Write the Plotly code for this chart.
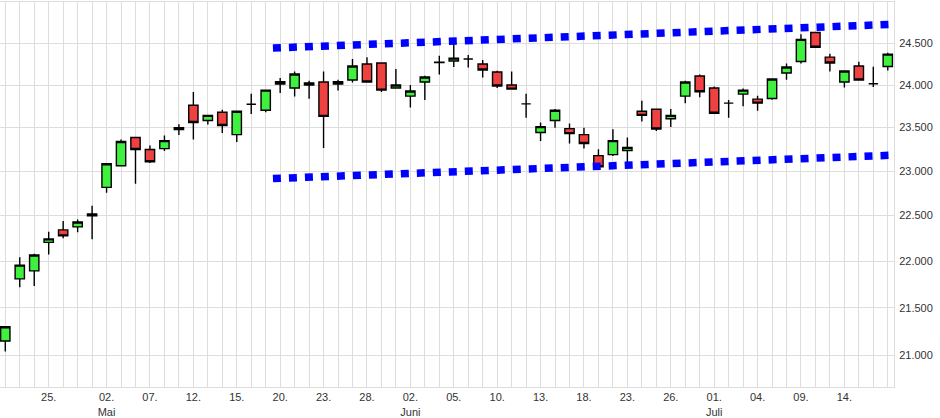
import plotly.graph_objects as go

dates = ["2025-04-22", "2025-04-23", "2025-04-24", "2025-04-25", "2025-04-28", "2025-04-29", "2025-04-30",
         "2025-05-02", "2025-05-05", "2025-05-06", "2025-05-07", "2025-05-08", "2025-05-09", "2025-05-12",
         "2025-05-13", "2025-05-14", "2025-05-15", "2025-05-16", "2025-05-19", "2025-05-20", "2025-05-21",
         "2025-05-22", "2025-05-23", "2025-05-26", "2025-05-27", "2025-05-28", "2025-05-29", "2025-05-30",
         "2025-06-02", "2025-06-03", "2025-06-04", "2025-06-05", "2025-06-06", "2025-06-09", "2025-06-10",
         "2025-06-11", "2025-06-12", "2025-06-13", "2025-06-16", "2025-06-17", "2025-06-18", "2025-06-19",
         "2025-06-20", "2025-06-23", "2025-06-24", "2025-06-25", "2025-06-26", "2025-06-27", "2025-06-30",
         "2025-07-01", "2025-07-02", "2025-07-03", "2025-07-04", "2025-07-07", "2025-07-08", "2025-07-09",
         "2025-07-10", "2025-07-11", "2025-07-14", "2025-07-15", "2025-07-16", "2025-07-17"]

open_ = [21149, 21808, 21894, 22205, 22342, 22375, 22519, 22817, 23062, 23385, 23247, 23258, 23477, 23762,
         23583, 23679, 23419, 23774, 23702, 24012, 23964, 24024, 24036, 24012, 24060, 24250, 24262, 23964,
         23869, 24036, 24268, 24286, 24310, 24250, 24155, 24000, 23778, 23444, 23583, 23488, 23419, 23177,
         23189, 23235, 23691, 23714, 23603, 23869, 24107, 23964, 23786, 23893, 23833, 23841, 24143, 24281,
         24631, 24333, 24036, 24226, 24015, 24221]
high = [21300, 22041, 22081, 22323, 22441, 22456, 22610, 23090, 23362, 23390, 23293, 23408, 23540, 23917,
        23645, 23708, 23700, 23896, 23945, 24083, 24162, 24051, 24162, 24063, 24310, 24333, 24265, 24190,
        24000, 24111, 24349, 24507, 24360, 24300, 24170, 24162, 23896, 23560, 23718, 23548, 23500, 23250,
        23480, 23385, 23813, 23718, 23718, 24051, 24126, 23983, 23822, 23960, 23873, 24075, 24257, 24611,
        24635, 24373, 24170, 24277, 24218, 24385]
low = [21038, 21719, 21730, 22073, 22249, 22316, 22238, 22757, 23060, 22856, 23092, 23230, 23415, 23362,
       23536, 23438, 23335, 23660, 23679, 23905, 23864, 23837, 23265, 23936, 24031, 24030, 23917, 23960,
       23734, 23822, 24126, 24215, 24210, 24090, 23964, 23950, 23614, 23346, 23500, 23316, 23258, 23045,
       23173, 23085, 23571, 23461, 23507, 23786, 23857, 23665, 23614, 23750, 23698, 23825, 24063, 24257,
       24450, 24162, 23971, 24060, 23976, 24174]
close = [21298, 21957, 22066, 22243, 22276, 22430, 22497, 23085, 23339, 23247, 23108, 23350, 23500, 23560,
         23643, 23524, 23691, 23774, 23940, 24039, 24131, 24000, 23631, 24039, 24226, 24036, 23940, 24000,
         23929, 24095, 24272, 24321, 24310, 24179, 23988, 23952, 23778, 23512, 23703, 23431, 23316, 23051,
         23350, 23270, 23643, 23484, 23643, 24036, 23920, 23667, 23786, 23940, 23786, 24071, 24214, 24548,
         24452, 24262, 24167, 24060, 24015, 24369]

tick_dates = ["2025-04-25", "2025-05-02", "2025-05-07", "2025-05-12", "2025-05-15", "2025-05-20",
              "2025-05-23", "2025-05-28", "2025-06-02", "2025-06-05", "2025-06-10", "2025-06-13",
              "2025-06-18", "2025-06-23", "2025-06-26", "2025-07-01", "2025-07-04", "2025-07-09",
              "2025-07-14"]
tick_labels = ["25.", "02.<br>Mai", "07.", "12.", "15.", "20.", "23.", "28.", "02.<br>Juni", "05.",
               "10.", "13.", "18.", "23.", "26.", "01.<br>Juli", "04.", "09.", "14."]

price_ticks = [21000, 21500, 22000, 22500, 23000, 23500, 24000, 24500]
price_labels = ["21.000", "21.500", "22.000", "22.500", "23.000", "23.500", "24.000", "24.500"]

# trend channel: (position in trading-day index, value)
channel_pos = [18.5, 61.65]
channel_upper = [24443, 24733]
channel_lower = [22916, 23184]

idx = list(range(len(dates)))
label_map = dict(zip(tick_dates, tick_labels))
tickvals = idx
ticktext = [label_map.get(d, "") for d in dates]

fig = go.Figure()
fig.add_trace(go.Candlestick(
    x=idx, open=open_, high=high, low=low, close=close,
    hovertext=dates,
    increasing=dict(fillcolor="#3ff03f", line=dict(color="#000000", width=1.4)),
    decreasing=dict(fillcolor="#f04141", line=dict(color="#000000", width=1.4)),
    whiskerwidth=0, showlegend=False,
))
for vals in (channel_upper, channel_lower):
    fig.add_trace(go.Scatter(
        x=channel_pos, y=vals, mode="lines",
        line=dict(color="#0000ff", width=7.5, dash="8px,8px"),
        showlegend=False, hoverinfo="skip", cliponaxis=False,
    ))

fig.update_layout(
    width=940, height=418,
    margin=dict(l=0, r=46, t=2, b=31),
    paper_bgcolor="white", plot_bgcolor="white",
    boxgap=0.08,
    font=dict(family="Liberation Sans, Arial, sans-serif", size=11, color="#333333"),
    xaxis=dict(
        range=[-0.366, 61.43], tickmode="array", tickvals=tickvals, ticktext=ticktext,
        showgrid=True, gridcolor="#dddddd", gridwidth=1, zeroline=False,
        showline=True, linecolor="#dddddd", linewidth=1, mirror=True,
        ticks="", rangeslider=dict(visible=False), fixedrange=True,
        tickfont=dict(size=11, color="#333333"),
    ),
    yaxis=dict(
        type="log", range=[4.31541, 4.39803], side="right",
        tickmode="array", tickvals=price_ticks, ticktext=price_labels,
        showgrid=True, gridcolor="#dddddd", gridwidth=1, zeroline=False,
        showline=True, linecolor="#dddddd", linewidth=1,
        ticks="", fixedrange=True, ticklabelstandoff=2,
        tickfont=dict(size=11, color="#333333"),
    ),
)

fig.write_html("out.html", config={"displayModeBar": False},
               post_script="document.body.style.margin='0';document.body.style.padding='0';")
